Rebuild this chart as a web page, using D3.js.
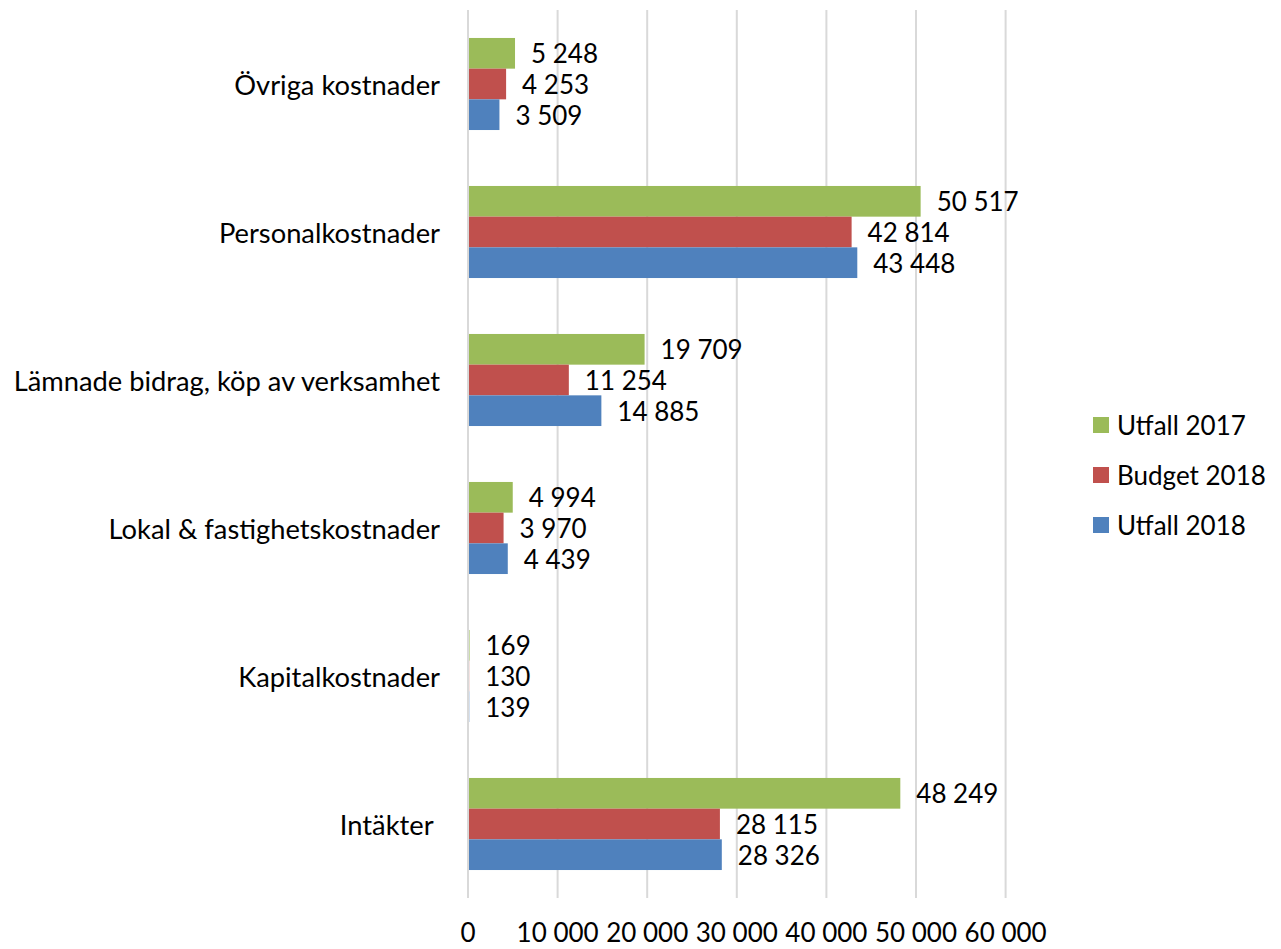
<!DOCTYPE html>
<html>
<head>
<meta charset="utf-8">
<script src="https://cdn.jsdelivr.net/npm/d3@7"></script>
<style>
  html, body { margin: 0; padding: 0; background: #fff; }
  svg { display: block; }
  text { font-family: Lato, "Open Sans", "Liberation Sans", sans-serif; fill: #000; white-space: pre; }
</style>
</head>
<body>
<svg id="chart" width="1281" height="949"></svg>
<script>
// Categories listed top to bottom
const categories = ["Övriga kostnader", "Personalkostnader", "Lämnade bidrag, köp av verksamhet", "Lokal & fastighetskostnader", "Kapitalkostnader", "Intäkter "];
const seriesNames = ["Utfall 2017", "Budget 2018", "Utfall 2018"];
const utfall2017 = [5248, 50517, 19709, 4994, 169, 48249];
const budget2018 = [4253, 42814, 11254, 3970, 130, 28115];
const utfall2018 = [3509, 43448, 14885, 4439, 139, 28326];
const xTicks = [0, 10000, 20000, 30000, 40000, 50000, 60000];
const colors = ["#9BBB59", "#C0504D", "#4F81BD"];

const seriesValues = [utfall2017, budget2018, utfall2018];
const svg = d3.select("#chart");
const fontSize = 26;
const catFontSize = 27.3;

const x = d3.scaleLinear().domain([0, 60000]).range([468, 1005.6]);
const y = d3.scaleBand().domain(categories).range([10, 898]).paddingInner(0.378).paddingOuter(0.189);
const ySub = d3.scaleBand().domain(seriesNames).range([0, y.bandwidth()]);

const fmt = v => d3.format(",")(v).replace(/,/g, " ");

// gridlines
svg.append("g").selectAll("line").data(xTicks).join("line")
  .attr("x1", d => x(d)).attr("x2", d => x(d))
  .attr("y1", 10).attr("y2", 898)
  .attr("stroke", "#D9D9D9").attr("stroke-width", 2);

// x tick labels
svg.append("g").selectAll("text").data(xTicks).join("text")
  .attr("x", d => x(d)).attr("y", 942)
  .attr("text-anchor", "middle")
  .style("font-size", fontSize + "px")
  .text(d => fmt(d));

// category labels
svg.append("g").selectAll("text").data(categories).join("text")
  .attr("x", 440).attr("y", d => y(d) + y.bandwidth() / 2)
  .attr("text-anchor", "end").attr("dominant-baseline", "central")
  .style("font-size", catFontSize + "px")
  .text(d => d);

// bars and value labels
seriesNames.forEach((s, si) => {
  const g = svg.append("g");
  const data = categories.map((c, i) => ({ c, v: seriesValues[si][i] }));
  g.selectAll("rect").data(data).join("rect")
    .attr("x", x(0) + 1)
    .attr("y", d => y(d.c) + ySub(s))
    .attr("width", d => Math.max(0, x(d.v) - x(0) - 1))
    .attr("height", ySub.bandwidth())
    .attr("fill", colors[si]);
  g.selectAll("text").data(data).join("text")
    .attr("x", d => x(d.v) + 16)
    .attr("y", d => y(d.c) + ySub(s) + ySub.bandwidth() / 2)
    .attr("dominant-baseline", "central")
    .style("font-size", fontSize + "px")
    .text(d => fmt(d.v));
});

// legend
const legend = svg.append("g");
seriesNames.forEach((s, i) => {
  const cy = 425 + i * 50;
  legend.append("rect").attr("x", 1093).attr("y", cy - 8).attr("width", 16).attr("height", 16).attr("fill", colors[i]);
  legend.append("text").attr("x", 1117).attr("y", cy).attr("dominant-baseline", "central")
    .style("font-size", fontSize + "px").text(s);
});
</script>
</body>
</html>
